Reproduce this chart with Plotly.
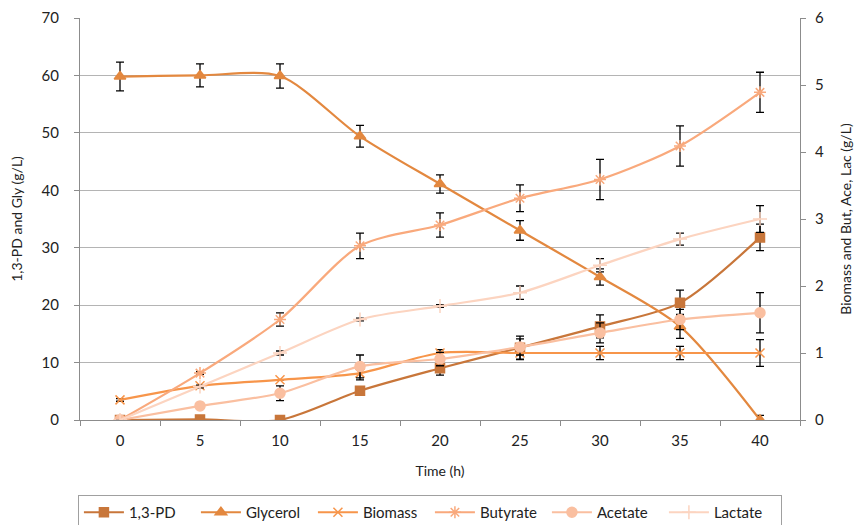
import plotly.graph_objects as go

time_h = [0, 5, 10, 15, 20, 25, 30, 35, 40]
pd13 = [0.0, 0.1, 0.0, 5.1, 9.0, 12.6, 16.3, 20.4, 31.8]
pd13_err = [0.0, 0.0, 0.0, 0.0, 1.2, 2.0, 2.0, 2.2, 2.3]
glycerol = [59.8, 60.0, 59.9, 49.4, 41.1, 33.0, 24.9, 16.3, 0.0]
glycerol_err = [2.5, 2.0, 2.1, 1.9, 1.6, 1.7, 1.4, 2.1, 0.8]
biomass = [0.30, 0.51, 0.60, 0.70, 1.00, 1.00, 1.00, 1.00, 1.00]
biomass_err = [0.02, 0.0, 0.0, 0.1, 0.05, 0.1, 0.1, 0.1, 0.2]
butyrate = [0.0, 0.70, 1.50, 2.60, 2.91, 3.31, 3.59, 4.09, 4.89]
butyrate_err = [0.0, 0.02, 0.1, 0.19, 0.18, 0.2, 0.3, 0.3, 0.3]
acetate = [0.0, 0.21, 0.40, 0.80, 0.91, 1.09, 1.30, 1.50, 1.60]
acetate_err = [0.0, 0.0, 0.11, 0.17, 0.1, 0.12, 0.15, 0.15, 0.3]
lactate = [0.0, 0.50, 1.00, 1.50, 1.70, 1.90, 2.31, 2.70, 3.00]
lactate_err = [0.0, 0.02, 0.03, 0.02, 0.02, 0.1, 0.1, 0.09, 0.2]

FONT = "Lato"
series = [
    ("1,3-PD", pd13, pd13_err, "y", "#C8763A", "square", 9),
    ("Glycerol", glycerol, glycerol_err, "y", "#E3883F", "triangle-up", 10),
    ("Biomass", biomass, biomass_err, "y2", "#F7954A", "x-thin-open", 9),
    ("Butyrate", butyrate, butyrate_err, "y2", "#F9A97C", "asterisk-open", 10),
    ("Acetate", acetate, acetate_err, "y2", "#FABFA0", "circle", 10),
    ("Lactate", lactate, lactate_err, "y2", "#FCD4C0", "cross-thin-open", 10),
]

fig = go.Figure()
for name, vals, err, ax, col, sym, sz in series:
    fig.add_trace(go.Scatter(
        x=time_h, y=vals, name=name, yaxis=ax, mode="lines+markers",
        line=dict(color=col, width=2.2, shape="spline", smoothing=0.8),
        marker=dict(symbol=sym, size=sz, color=col, line=dict(color=col, width=1.5)),
        error_y=dict(type="data", array=err, color="black", thickness=1.3, width=4),
    ))

# the page adds an 8px body margin, so the figure is sized to fill the rest
fig.update_layout(
    width=854, height=517,
    margin=dict(l=72, r=62, t=10, b=105),
    paper_bgcolor="white", plot_bgcolor="white",
    font=dict(family=FONT, size=15, color="#222"),
    xaxis=dict(
        range=[-2.5, 42.5], tickvals=time_h, ticktext=[str(t) for t in time_h],
        ticks="", showgrid=False, showline=True, linecolor="#8c8c8c", linewidth=1,
        zeroline=False, tickfont=dict(size=15), ticklabelstandoff=7, automargin=False,
        minor=dict(ticks="outside", tick0=2.5, dtick=5, ticklen=5, tickcolor="#8c8c8c", showgrid=False),
        title=dict(text="Time (h)", font=dict(size=14), standoff=18),
    ),
    yaxis=dict(
        range=[0, 70], dtick=10, ticks="outside", ticklen=5, tickcolor="#8c8c8c",
        showgrid=True, gridcolor="#b4b4b4", gridwidth=1.2, showline=True,
        linecolor="#8c8c8c", zeroline=False, tickfont=dict(size=15),
        ticklabelstandoff=12, automargin=False,
        title=dict(text="1,3-PD and Gly (g/L)", font=dict(size=14), standoff=15),
    ),
    yaxis2=dict(
        range=[0, 6], dtick=1, overlaying="y", side="right", ticks="outside",
        ticklen=5, tickcolor="#8c8c8c", showgrid=False, showline=True,
        linecolor="#8c8c8c", zeroline=False, tickfont=dict(size=15),
        ticklabelstandoff=6, automargin=False,
        title=dict(text="Biomass and But, Ace, Lac (g/L)", font=dict(size=14), standoff=18),
    ),
    legend=dict(
        orientation="h", x=0.486, xanchor="center",
        yref="container", y=0.058, yanchor="top",
        bordercolor="#a0a0a0", borderwidth=1, font=dict(size=15),
        entrywidth=62, itemwidth=40, tracegroupgap=0,
    ),
    showlegend=True,
)

fig.write_html("out.html")
